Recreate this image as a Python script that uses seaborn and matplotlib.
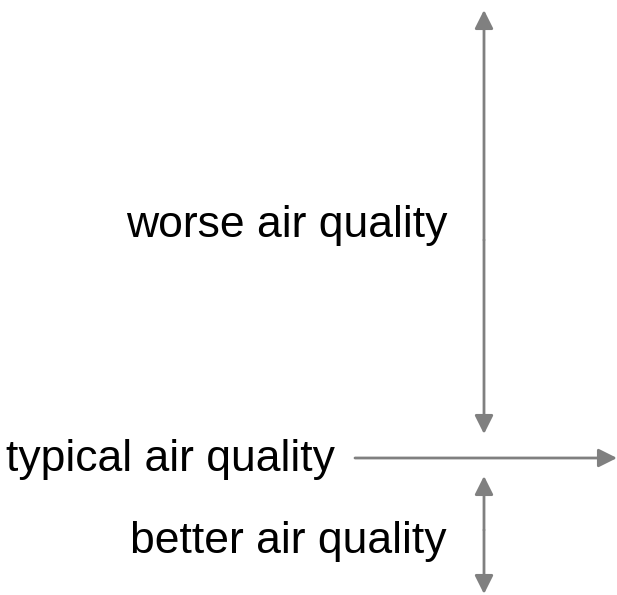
import matplotlib
matplotlib.use('Agg')
import matplotlib.pyplot as plt
import seaborn as sns

sns.set_style('white')
plt.rcParams['font.family'] = ['Liberation Sans', 'DejaVu Sans']

# labels and where they sit (pixel space of a 617x595 canvas)
labels = ['worse air quality', 'typical air quality', 'better air quality']
label_x = [447, 335, 447]
label_y = [225, 459, 541]

# arrows: (x_start, y_start, x_end, y_end)
arrows = [
    (484, 240, 484, 10),    # up
    (484, 240, 484, 434),   # down to typical
    (355, 458, 617, 458),   # horizontal
    (484, 530, 484, 476),   # up from better
    (484, 530, 484, 594),   # down
]

arrow_color = '#808080'

fig = plt.figure(figsize=(6.17, 5.95), dpi=100)
ax = fig.add_axes([0, 0, 1, 1])
ax.set_xlim(0, 617)
ax.set_ylim(595, 0)
ax.axis('off')

for x0, y0, x1, y1 in arrows:
    ax.annotate('', xy=(x1, y1), xytext=(x0, y0),
                arrowprops=dict(arrowstyle='-|>', color=arrow_color, lw=2,
                                mutation_scale=28, shrinkA=0, shrinkB=0))

for txt, x, y in zip(labels, label_x, label_y):
    ax.text(x, y, txt, ha='right', va='center', fontsize=32, color='black')

fig.savefig('out.png', dpi=100)
